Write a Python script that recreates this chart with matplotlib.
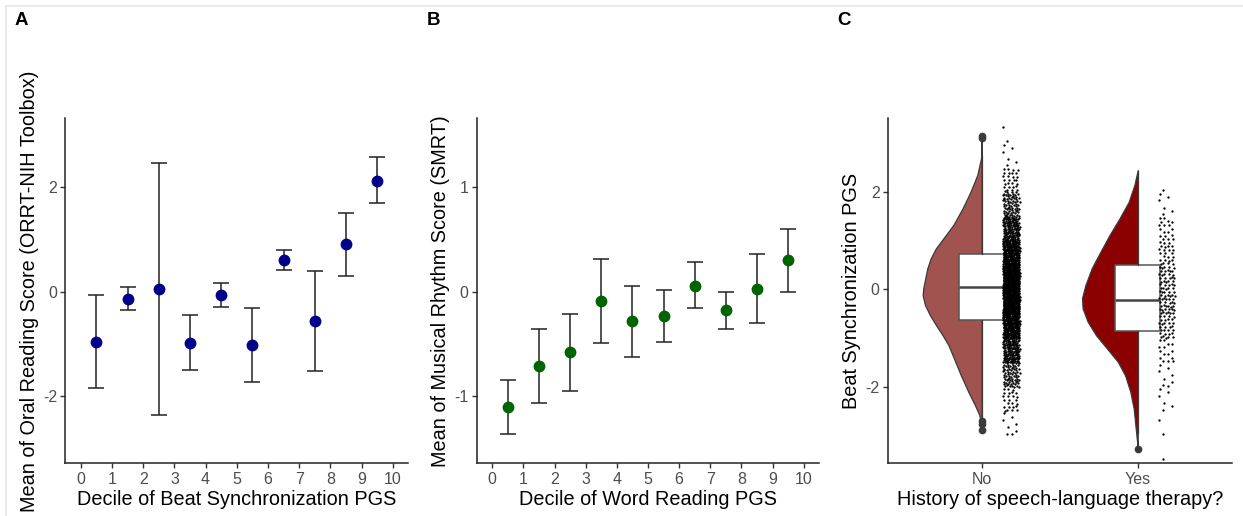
import numpy as np
import matplotlib
matplotlib.use("Agg")
import matplotlib.pyplot as plt
from matplotlib.lines import Line2D

plt.rcParams['font.family'] = ['Liberation Sans', 'DejaVu Sans']
plt.rcParams['axes.unicode_minus'] = False

# ---------------- data ----------------
deciles = [0.5, 1.5, 2.5, 3.5, 4.5, 5.5, 6.5, 7.5, 8.5, 9.5]
xticks_dec = list(range(0, 11))

a_mean = [-0.956, -0.14, 0.045, -0.975, -0.07, -1.025, 0.60, -0.56, 0.90, 2.12]
a_upper = [-0.063, 0.096, 2.45, -0.446, 0.16, -0.312, 0.797, 0.40, 1.51, 2.57]
a_lower = [-1.85, -0.356, -2.35, -1.49, -0.287, -1.73, 0.415, -1.51, 0.306, 1.69]

b_mean = [-1.10, -0.713, -0.58, -0.092, -0.283, -0.232, 0.06, -0.175, 0.032, 0.303]
b_upper = [-0.843, -0.36, -0.21, 0.312, 0.06, 0.019, 0.284, 0.003, 0.36, 0.60]
b_lower = [-1.356, -1.066, -0.949, -0.487, -0.62, -0.48, -0.156, -0.356, -0.296, 0.003]

groups = ["No", "Yes"]
# half-violin outline (density profile, width in x-units)
no_prof_y = [3.13, 2.68, 2.34, 2.00, 1.66, 1.32, 1.04, 0.84, 0.63, 0.43, 0.23, 0.02,
             -0.12, -0.32, -0.53, -0.73, -0.94, -1.14, -1.41, -1.76, -2.10, -2.37,
             -2.57, -2.75, -2.85]
no_prof_w = [0, 0.004, 0.028, 0.071, 0.122, 0.181, 0.246, 0.293, 0.327, 0.348, 0.361,
             0.374, 0.378, 0.363, 0.331, 0.293, 0.250, 0.213, 0.178, 0.133, 0.085,
             0.043, 0.015, 0.005, 0]
yes_prof_y = [2.44, 2.14, 1.79, 1.45, 1.11, 0.77, 0.43, 0.09, -0.18, -0.39, -0.66,
              -0.94, -1.21, -1.48, -1.76, -2.10, -2.44, -2.78, -3.12, -3.26]
yes_prof_w = [0, 0.021, 0.058, 0.117, 0.181, 0.239, 0.295, 0.335, 0.357, 0.353, 0.321,
              0.267, 0.197, 0.128, 0.081, 0.047, 0.026, 0.015, 0.004, 0]

# box statistics
no_box = dict(q1=-0.63, med=0.04, q3=0.717, whislo=-2.62, whishi=2.72,
              fliers=[3.10, 3.13, -2.70, -2.76, -2.88])
yes_box = dict(q1=-0.847, med=-0.212, q3=0.498, whislo=-2.95, whishi=2.43,
               fliers=[-3.26])

# raw points: counts per 0.5-wide bin of PGS
bin_edges = [-3.5, -3.0, -2.5, -2.0, -1.5, -1.0, -0.5, 0.0, 0.5, 1.0, 1.5, 2.0, 2.5, 3.0, 3.5]
no_counts = [0, 8, 25, 70, 140, 230, 280, 270, 220, 140, 70, 28, 6, 2]
yes_counts = [1, 2, 6, 8, 15, 30, 40, 35, 25, 18, 6, 1, 0, 0]

# ---------------- figure ----------------
W, H = 1243, 516
fig = plt.figure(figsize=(W / 100, H / 100), dpi=100)

def add_ax(l, r, t, b):
    return fig.add_axes([l / W, 1 - b / H, (r - l) / W, (b - t) / H])

tick_col = "#4d4d4d"
TITLE_FS = 14.3
def style(ax):
    for s in ["top", "right"]:
        ax.spines[s].set_visible(False)
    for s in ["left", "bottom"]:
        ax.spines[s].set_linewidth(1.1)
        ax.spines[s].set_color("#222222")
    ax.tick_params(axis="both", length=3.5, width=1.0, color="#333333",
                   labelsize=11.5, labelcolor=tick_col, pad=2.5)

def dec_panel(ax, mean, lo, hi, col, ylim, yticks, xlabel, ylabel):
    m = np.array(mean)
    yerr = [m - np.array(lo), np.array(hi) - m]
    ax.errorbar(deciles, mean, yerr=yerr, fmt="none", ecolor="#222222",
                elinewidth=1.1, capsize=5.8, capthick=1.1, zorder=2)
    ax.plot(deciles, mean, "o", color=col, ms=7.5, zorder=3)
    ax.set_xlim(-0.5, 10.5)
    ax.set_ylim(*ylim)
    ax.set_xticks(xticks_dec)
    ax.set_yticks(yticks)
    ax.set_xlabel(xlabel, fontsize=TITLE_FS, labelpad=2.5)
    ax.set_ylabel(ylabel, fontsize=TITLE_FS, labelpad=3)
    style(ax)

axA = add_ax(65.3, 408.3, 118.3, 463.3)
dec_panel(axA, a_mean, a_lower, a_upper, "#00008B", (-3.28, 3.31), [-2, 0, 2],
          "Decile of Beat Synchronization PGS", "Mean of Oral Reading Score (ORRT-NIH Toolbox)")

axB = add_ax(476.7, 819.3, 118.3, 463.3)
dec_panel(axB, b_mean, b_lower, b_upper, "#006400", (-1.64, 1.66), [-1, 0, 1],
          "Decile of Word Reading PGS", "Mean of Musical Rhythm Score (SMRT)")

# ---------------- panel C ----------------
axC = add_ax(888, 1232.3, 118.3, 463.3)
fills = ["#A1544F", "#8B0000"]
profiles = [(no_prof_y, no_prof_w), (yes_prof_y, yes_prof_w)]
boxes = [no_box, yes_box]
counts = [no_counts, yes_counts]
a1 = 1 / 1.32471795724
a2 = a1 * a1
for i, g in enumerate(groups):
    pos = i + 1
    py, pw = profiles[i]
    py = np.array(py); pw = np.array(pw)
    axC.fill_betweenx(py, pos - pw, pos, facecolor=fills[i], edgecolor="#3a3a3a",
                      linewidth=0.9, zorder=1)
    st = dict(boxes[i]); st["label"] = g
    axC.bxp([st], positions=[pos], widths=0.29, showcaps=False, patch_artist=True,
            boxprops=dict(facecolor="white", edgecolor="#555555", linewidth=1.1),
            medianprops=dict(color="#444444", linewidth=1.8),
            whiskerprops=dict(color="#3a3a3a", linewidth=0.9),
            flierprops=dict(marker="o", markersize=4.5, markerfacecolor="#3a3a3a",
                            markeredgecolor="#3a3a3a"),
            zorder=2)
    xs, ys = [], []
    for k, n in enumerate(counts[i]):
        lo, hi = bin_edges[k], bin_edges[k + 1]
        for j in range(n):
            fx = (0.5 + (j + 1) * a1) % 1.0
            fy = (0.5 + (j + 1) * a2) % 1.0
            xs.append(pos + 0.19 + (fx - 0.5) * 0.106)
            ys.append(lo + fy * (hi - lo))
    axC.scatter(xs, ys, s=2.8, color="black", linewidths=0, zorder=3)

axC.set_xlim(0.4, 2.606)
axC.set_ylim(-3.56, 3.50)
axC.set_xticks([1, 2])
axC.set_xticklabels(groups)
axC.set_yticks([-2, 0, 2])
axC.set_xlabel("History of speech-language therapy?", fontsize=TITLE_FS, labelpad=2.5)
axC.set_ylabel("Beat Synchronization PGS", fontsize=TITLE_FS, labelpad=3)
style(axC)

# panel letters
for x, lab in [(15, "A"), (427, "B"), (837, "C")]:
    fig.text(x / W, 1 - 12 / H, lab, fontsize=13.5, fontweight="bold", va="top", ha="left")

# card border
fig.add_artist(Line2D([6 / W, 1], [1 - 6 / H, 1 - 6 / H], color="#e6e6e6", lw=1.2))
fig.add_artist(Line2D([6 / W, 6 / W], [0, 1 - 6 / H], color="#e6e6e6", lw=1.2))

fig.savefig("out.png", dpi=100)
